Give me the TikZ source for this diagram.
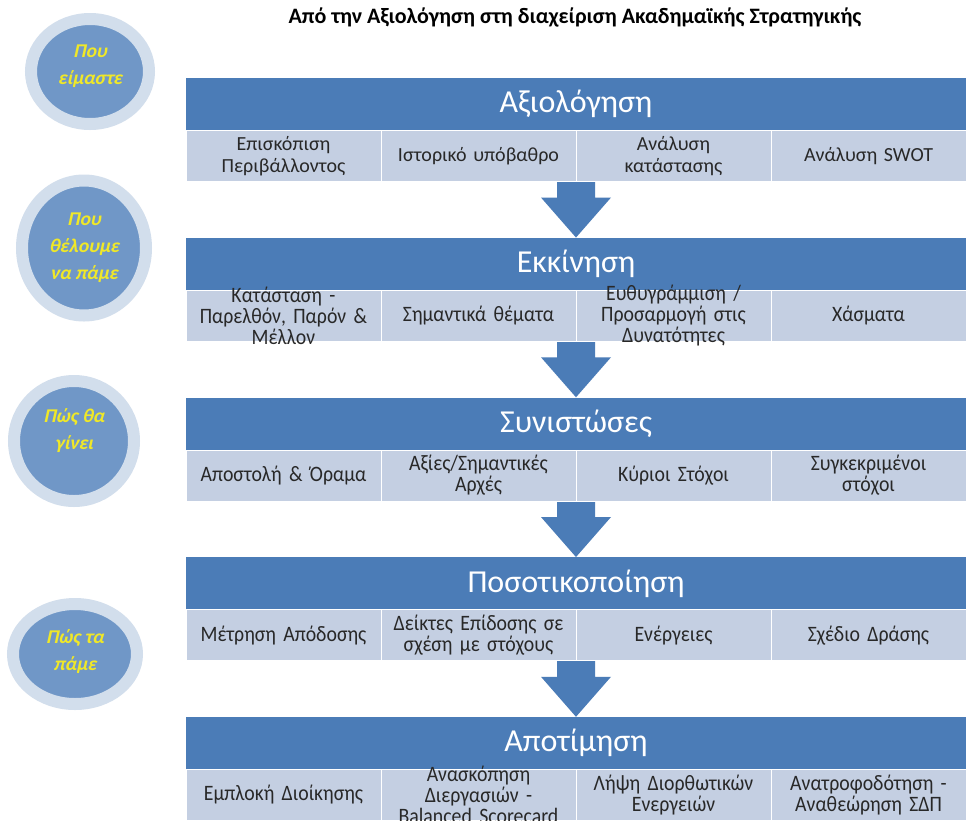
\documentclass[tikz,border=0pt]{standalone}
\usepackage{fontspec}
\setmainfont{Carlito}
\newfontfamily\narrowfont[FakeStretch=0.9]{Carlito}
\newfontfamily\slantfont[FakeSlant=0.22]{Carlito}
\usetikzlibrary{calc,shapes.geometric}

\definecolor{barblue}{RGB}{75,124,183}
\definecolor{cellblue}{RGB}{196,207,226}
\definecolor{ringblue}{RGB}{210,222,236}
\definecolor{coreblue}{RGB}{112,151,199}
\definecolor{qyellow}{RGB}{240,232,40}
\definecolor{celltext}{RGB}{40,40,40}

% a grey-blue cell of fixed size with its (possibly overflowing) caption
\newcommand\stagecell[4]{%
  \node[cellbox] (#1) at (#2) {};
  \node[#3] (#1-t) at (#1.center) {#4};}

\begin{document}
\begin{tikzpicture}[x=1pt,y=-1pt,
  titletext/.style={font=\bfseries\fontsize{22}{26}\selectfont, text=black},
  header/.style={rectangle, fill=barblue, minimum width=780pt, minimum height=52.5pt,
    inner sep=0pt, text=white, font=\fontsize{32}{36}\selectfont},
  cellbox/.style={rectangle, fill=cellblue, draw=white, line width=0.8pt,
    minimum width=195pt, minimum height=51pt, inner sep=0pt},
  celltxt/.style={inner sep=0pt, text width=190pt, align=center, text=celltext,
    font=\fontsize{20}{22}\selectfont},
  ncelltxt/.style={celltxt, font=\narrowfont\fontsize{22}{21}\selectfont},
  ring/.style={ellipse, draw=ringblue, line width=12pt, fill=coreblue, inner sep=0pt},
  qtext/.style={align=center, text=qyellow, font=\slantfont\bfseries\fontsize{19.5}{27}\selectfont},
  blockarrow/.style={fill=barblue}
]
\useasboundingbox (0,0) rectangle (967,820);
\fill[white] (0,0) rectangle (967,820);

% title
\node[titletext] (title) at (575,17) {Από την Αξιολόγηση στη διαχείριση Ακαδημαϊκής Στρατηγικής};

% left-hand question circles
\node[ring, minimum width=118pt, minimum height=105pt] (o1) at (90,71.5) {};
\node[qtext] (q1) at (90,66.5) {Που\\είμαστε};
\node[ring, minimum width=124pt, minimum height=135pt] (o2) at (84,248) {};
\node[qtext] (q2) at (84,248) {Που\\θέλουμε\\να πάμε};
\node[ring, minimum width=120pt, minimum height=120pt] (o3) at (74,441) {};
\node[qtext] (q3) at (74,431) {Πώς θα\\γίνει};
\node[ring, minimum width=124pt, minimum height=100pt] (o4) at (75,654) {};
\node[qtext] (q4) at (75,652) {Πώς τα\\πάμε};

% stage headers
\node[header] (h1) at (576,104.25) {Αξιολόγηση};
\node[header] (h2) at (576,264) {Εκκίνηση};
\node[header] (h3) at (576,423.75) {Συνιστώσες};
\node[header] (h4) at (576,583.5) {Ποσοτικοποίηση};
\node[header] (h5) at (576,743.25) {Αποτίμηση};

% block arrows from each stage down to the next (drawn under the captions)
\foreach \a/\b in {h1/h2, h2/h3, h3/h4, h4/h5}{
  \fill[blockarrow] let \p1=(\a.south), \p2=(\b.north) in
    (\x1-19pt,\y1) -- (\x1+19pt,\y1) -- (\x1+19pt,\y2+40pt) -- (\x1+35pt,\y2+40pt)
    -- (\x1,\y2) -- (\x1-35pt,\y2+40pt) -- (\x1-19pt,\y2+40pt) -- cycle;
}

% stage 1
\stagecell{c11}{283.5,156}{celltxt}{Επισκόπιση\\Περιβάλλοντος}
\stagecell{c12}{478.5,156}{celltxt}{Ιστορικό υπόβαθρο}
\stagecell{c13}{673.5,156}{celltxt}{Ανάλυση\\κατάστασης}
\stagecell{c14}{868.5,156}{celltxt}{Ανάλυση SWOT}

% stage 2
\stagecell{c21}{283.5,315.75}{ncelltxt}{Κατάσταση -\\Παρελθόν, Παρόν \&\\Μέλλον}
\stagecell{c22}{478.5,315.75}{ncelltxt}{Σημαντικά θέματα}
\stagecell{c23}{673.5,315.75}{ncelltxt}{Ευθυγράμμιση /\\Προσαρμογή στις\\Δυνατότητες}
\stagecell{c24}{868.5,315.75}{ncelltxt}{Χάσματα}

% stage 3
\stagecell{c31}{283.5,475.5}{ncelltxt}{Αποστολή \& Όραμα}
\stagecell{c32}{478.5,475.5}{ncelltxt}{Αξίες/Σημαντικές\\Αρχές}
\stagecell{c33}{673.5,475.5}{ncelltxt}{Κύριοι Στόχοι}
\stagecell{c34}{868.5,475.5}{ncelltxt}{Συγκεκριμένοι\\στόχοι}

% stage 4
\stagecell{c41}{283.5,635.25}{ncelltxt}{Μέτρηση Απόδοσης}
\stagecell{c42}{478.5,635.25}{ncelltxt}{Δείκτες Επίδοσης σε\\σχέση με στόχους}
\stagecell{c43}{673.5,635.25}{ncelltxt}{Ενέργειες}
\stagecell{c44}{868.5,635.25}{ncelltxt}{Σχέδιο Δράσης}

% stage 5
\stagecell{c51}{283.5,795}{ncelltxt}{Εμπλοκή Διοίκησης}
\stagecell{c52}{478.5,795}{ncelltxt}{Ανασκόπηση\\Διεργασιών -\\Balanced Scorecard}
\stagecell{c53}{673.5,795}{ncelltxt}{Λήψη Διορθωτικών\\Ενεργειών}
\stagecell{c54}{868.5,795}{ncelltxt}{Ανατροφοδότηση -\\Αναθεώρηση ΣΔΠ}
\end{tikzpicture}
\end{document}
